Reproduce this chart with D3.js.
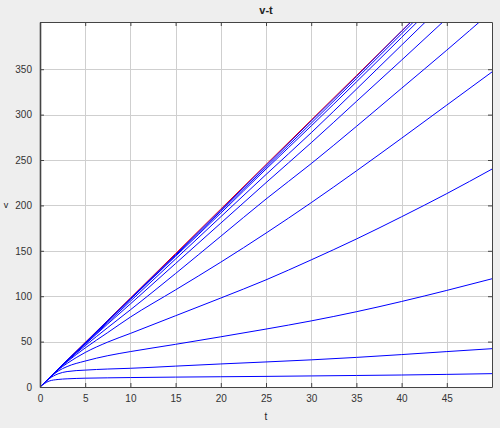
<!DOCTYPE html>
<html>
<head>
<meta charset="utf-8">
<script src="https://cdn.jsdelivr.net/npm/d3@7"></script>
<style>
  body { margin: 0; background: #eeeeee; }
  svg { display: block; font-family: "Liberation Sans", Arial, sans-serif; }
  .grid line { stroke: #cfcfcf; stroke-width: 1px; shape-rendering: crispEdges; }
  .tick-label { font-size: 10px; fill: #333333; }
</style>
</head>
<body>
<div id="my_dataviz"></div>
<script>
// sample times (s)
var tSamples = [0, 1, 2, 3, 5, 7.5, 10, 15, 20, 25, 30, 35, 40, 45, 50];

// velocity curves, bottom to top
var vA = [0, 6.5, 8.3, 9.0, 9.7, 10.1, 10.4, 10.9, 11.3, 11.7, 12.2, 12.7, 13.2, 13.9, 14.7];
var vB = [0, 9.0, 14.5, 17.0, 18.6, 19.8, 20.6, 23.0, 25.4, 27.6, 29.9, 32.6, 35.7, 39.0, 42.2];
var vC = [0, 9.6, 17.5, 22.5, 28.6, 34.5, 39.0, 47.0, 55.3, 63.8, 72.8, 82.9, 94.2, 106.4, 119.2];
var vD = [0, 9.7, 18.8, 26.0, 38.0, 49.5, 59.0, 78.5, 98.0, 118.0, 140.0, 163.0, 187.5, 213.0, 240.0];
var vE = [0, 9.8, 19.2, 27.8, 43.0, 60.0, 77.0, 107.0, 137.5, 169.5, 203.0, 238.0, 274.0, 310.5, 347.0];
var vF = [0, 9.8, 19.4, 28.5, 45.5, 65.5, 85.0, 125.0, 166.0, 207.0, 246.0, 287.0, 329.0, 371.0, 414.0];
var vG = [0, 9.8, 19.5, 28.9, 47.0, 69.5, 91.5, 136.0, 180.5, 225.0, 269.0, 314.5, 360.0, 406.0, 452.0];
var vH = [0, 9.8, 19.5, 29.0, 47.6, 71.0, 94.5, 141.0, 187.5, 234.0, 280.0, 328.0, 376.5, 425.0, 474.0];
var vI = [0, 9.8, 19.6, 29.2, 48.2, 72.3, 96.5, 144.0, 191.5, 240.0, 287.5, 336.0, 385.0, 434.0, 483.0];
var vJ = [0, 9.8, 19.6, 29.3, 48.5, 72.8, 97.0, 145.0, 193.5, 242.0, 290.5, 339.5, 389.0, 438.5, 488.0];
var vK = [0, 9.8, 19.6, 29.4, 48.8, 73.2, 97.5, 146.0, 195.0, 244.0, 293.0, 342.0, 392.0, 441.0, 490.0];
// free fall (no drag)
var vFree = [0, 9.8, 19.6, 29.4, 49.0, 73.5, 98.0, 147.0, 196.0, 245.0, 294.0, 343.0, 392.0, 441.0, 490.0];

var blueSeries = [vA, vB, vC, vD, vE, vF, vG, vH, vI, vJ, vK];

var xTicks = [0, 5, 10, 15, 20, 25, 30, 35, 40, 45];
var yTicks = [0, 50, 100, 150, 200, 250, 300, 350];

var margin = {top: 22, right: 8, bottom: 41, left: 40},
    width = 500 - margin.left - margin.right,
    height = 428 - margin.top - margin.bottom;

var svg = d3.select("#my_dataviz")
  .append("svg")
    .attr("width", 500)
    .attr("height", 428);

var x = d3.scaleLinear().domain([0, 50]).range([0, width]);
var y = d3.scaleLinear().domain([0, 402]).range([height, 0]);

var plot = svg.append("g")
  .attr("transform", "translate(" + margin.left + "," + margin.top + ")");

// white plot area
plot.append("rect")
  .attr("width", width)
  .attr("height", height)
  .attr("fill", "white");

svg.append("defs").append("clipPath")
  .attr("id", "clip")
.append("rect")
  .attr("width", width)
  .attr("height", height);

// grid
var grid = plot.append("g").attr("class", "grid");
grid.selectAll(".gx")
  .data(xTicks.filter(function(d) { return d > 0; }))
  .enter().append("line")
    .attr("x1", function(d) { return Math.round(x(d)) + 0.5; })
    .attr("x2", function(d) { return Math.round(x(d)) + 0.5; })
    .attr("y1", 0)
    .attr("y2", height);
grid.selectAll(".gy")
  .data(yTicks.filter(function(d) { return d > 0; }))
  .enter().append("line")
    .attr("y1", function(d) { return Math.round(y(d)) + 0.5; })
    .attr("y2", function(d) { return Math.round(y(d)) + 0.5; })
    .attr("x1", 0)
    .attr("x2", width);

// curves
var line = d3.line()
  .curve(d3.curveMonotoneX)
  .x(function(d, i) { return x(tSamples[i]); })
  .y(function(d) { return y(d); });

var curves = plot.append("g").attr("clip-path", "url(#clip)");

curves.append("path")
  .datum(vFree)
  .attr("fill", "none")
  .attr("stroke", "#ff0000")
  .attr("stroke-width", 1)
  .attr("d", line);

curves.selectAll(".blue")
  .data(blueSeries)
  .enter().append("path")
    .attr("class", "blue")
    .attr("fill", "none")
    .attr("stroke", "#0000ff")
    .attr("stroke-width", 1)
    .attr("d", line);

// axes, ticks point inwards
var xAxis = d3.axisBottom(x).tickValues(xTicks).tickSizeInner(-4).tickSizeOuter(0).tickPadding(8);
var yAxis = d3.axisLeft(y).tickValues(yTicks).tickSizeInner(-4).tickSizeOuter(0).tickPadding(8);
var xAxisTop = d3.axisTop(x).tickValues(xTicks).tickSizeInner(-4).tickSizeOuter(0).tickFormat("");
var yAxisRight = d3.axisRight(y).tickValues(yTicks).tickSizeInner(-4).tickSizeOuter(0).tickFormat("");

function styleAxis(g) {
  g.selectAll("path").attr("stroke", "#444444");
  g.selectAll("line").attr("stroke", "#444444");
  g.selectAll("text").attr("class", "tick-label").attr("fill", "#333333");
}

plot.append("g")
  .attr("transform", "translate(0," + height + ")")
  .call(xAxis)
  .call(styleAxis);

plot.append("g")
  .call(yAxis)
  .call(styleAxis)
  .select(".domain").attr("stroke-width", 1.6);

plot.append("g")
  .call(xAxisTop)
  .call(styleAxis);

plot.append("g")
  .attr("transform", "translate(" + width + ",0)")
  .call(yAxisRight)
  .call(styleAxis);

// title and axis labels
svg.append("text")
  .attr("x", margin.left + width / 2)
  .attr("y", 14)
  .attr("text-anchor", "middle")
  .attr("font-size", 11)
  .attr("font-weight", "bold")
  .attr("fill", "#222222")
  .text("v-t");

svg.append("text")
  .attr("x", margin.left + width / 2)
  .attr("y", 420)
  .attr("text-anchor", "middle")
  .attr("font-size", 10)
  .attr("fill", "#222222")
  .text("t");

svg.append("text")
  .attr("x", 6)
  .attr("y", margin.top + y(200) + 3)
  .attr("text-anchor", "middle")
  .attr("font-size", 9)
  .attr("fill", "#222222")
  .text("v");
</script>
</body>
</html>
